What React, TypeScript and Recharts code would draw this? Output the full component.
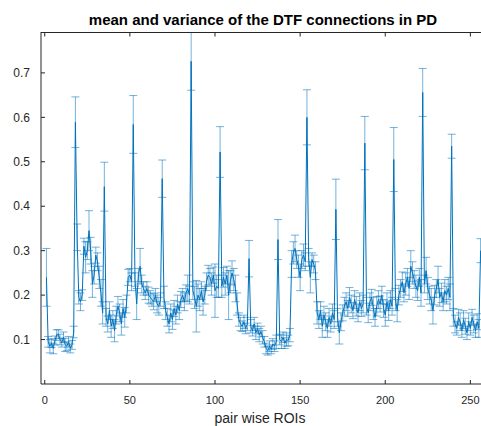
import React from 'react';
import { LineChart, Line, XAxis, YAxis, ErrorBar } from 'recharts';

// mean DTF value per connection (16x16 pairs flattened, one row per source)
const means = [
  0.240, 0.095, 0.085, 0.092, 0.080, 0.098, 0.110, 0.112, 0.100, 0.093, 0.105, 0.088, 0.085, 0.095, 0.080, 0.088,
  0.117, 0.589, 0.330, 0.195, 0.185, 0.200, 0.310, 0.285, 0.300, 0.345, 0.300, 0.225, 0.245, 0.290, 0.275, 0.240,
  0.205, 0.160, 0.444, 0.150, 0.135, 0.165, 0.130, 0.145, 0.120, 0.155, 0.175, 0.160, 0.135, 0.170, 0.150, 0.180,
  0.240, 0.245, 0.230, 0.584, 0.235, 0.180, 0.245, 0.265, 0.225, 0.215, 0.205, 0.215, 0.200, 0.195, 0.190, 0.185,
  0.200, 0.180, 0.175, 0.190, 0.462, 0.195, 0.165, 0.150, 0.135, 0.160, 0.145, 0.170, 0.155, 0.180, 0.165, 0.190,
  0.200, 0.185, 0.205, 0.215, 0.200, 0.726, 0.210, 0.195, 0.175, 0.200, 0.190, 0.210, 0.185, 0.200, 0.230, 0.245,
  0.240, 0.225, 0.245, 0.210, 0.220, 0.215, 0.522, 0.220, 0.240, 0.225, 0.245, 0.200, 0.230, 0.250, 0.235, 0.215,
  0.180, 0.145, 0.135, 0.130, 0.140, 0.125, 0.135, 0.282, 0.130, 0.120, 0.135, 0.115, 0.125, 0.110, 0.118, 0.105,
  0.095, 0.080, 0.075, 0.085, 0.078, 0.090, 0.085, 0.095, 0.325, 0.100, 0.095, 0.105, 0.092, 0.100, 0.098, 0.110,
  0.270, 0.295, 0.305, 0.280, 0.265, 0.240, 0.280, 0.290, 0.275, 0.600, 0.285, 0.240, 0.280, 0.270, 0.255, 0.160,
  0.145, 0.165, 0.130, 0.155, 0.140, 0.125, 0.150, 0.135, 0.160, 0.145, 0.393, 0.150, 0.115, 0.140, 0.160, 0.175,
  0.185, 0.170, 0.195, 0.180, 0.165, 0.190, 0.175, 0.160, 0.185, 0.170, 0.180, 0.542, 0.175, 0.160, 0.185, 0.195,
  0.170, 0.150, 0.175, 0.190, 0.180, 0.200, 0.170, 0.155, 0.185, 0.165, 0.190, 0.175, 0.505, 0.190, 0.165, 0.200,
  0.215, 0.230, 0.205, 0.225, 0.240, 0.215, 0.265, 0.250, 0.235, 0.220, 0.210, 0.240, 0.205, 0.656, 0.225, 0.255,
  0.215, 0.200, 0.190, 0.165, 0.200, 0.215, 0.235, 0.195, 0.205, 0.185, 0.210, 0.200, 0.215, 0.195, 0.535, 0.150,
  0.135, 0.125, 0.150, 0.140, 0.120, 0.145, 0.130, 0.115, 0.140, 0.125, 0.150, 0.135, 0.120, 0.140, 0.125, 0.300,
];

// half-length of each error bar
const errs = [
  0.065, 0.012, 0.015, 0.010, 0.012, 0.010, 0.012, 0.010, 0.012, 0.010, 0.012, 0.015, 0.010, 0.012, 0.010, 0.010,
  0.013, 0.057, 0.030, 0.015, 0.020, 0.012, 0.018, 0.035, 0.020, 0.045, 0.030, 0.030, 0.020, 0.018, 0.020, 0.025,
  0.030, 0.025, 0.055, 0.020, 0.018, 0.020, 0.025, 0.020, 0.025, 0.020, 0.022, 0.020, 0.025, 0.020, 0.022, 0.020,
  0.018, 0.015, 0.020, 0.065, 0.015, 0.035, 0.015, 0.040, 0.020, 0.015, 0.015, 0.015, 0.018, 0.015, 0.015, 0.018,
  0.015, 0.020, 0.020, 0.015, 0.042, 0.025, 0.020, 0.020, 0.020, 0.020, 0.022, 0.018, 0.020, 0.020, 0.020, 0.018,
  0.015, 0.020, 0.018, 0.030, 0.020, 0.065, 0.020, 0.025, 0.058, 0.025, 0.025, 0.020, 0.030, 0.020, 0.020, 0.022,
  0.020, 0.025, 0.018, 0.060, 0.025, 0.020, 0.057, 0.025, 0.022, 0.025, 0.020, 0.055, 0.025, 0.027, 0.025, 0.030,
  0.025, 0.015, 0.015, 0.012, 0.015, 0.012, 0.015, 0.041, 0.015, 0.012, 0.015, 0.015, 0.012, 0.015, 0.012, 0.015,
  0.012, 0.012, 0.010, 0.012, 0.010, 0.012, 0.012, 0.015, 0.045, 0.012, 0.015, 0.012, 0.012, 0.015, 0.012, 0.015,
  0.030, 0.025, 0.030, 0.020, 0.025, 0.030, 0.020, 0.025, 0.020, 0.062, 0.020, 0.035, 0.015, 0.020, 0.020, 0.025,
  0.020, 0.020, 0.025, 0.020, 0.020, 0.020, 0.020, 0.018, 0.020, 0.020, 0.068, 0.020, 0.025, 0.020, 0.018, 0.020,
  0.020, 0.018, 0.022, 0.020, 0.018, 0.020, 0.022, 0.020, 0.020, 0.018, 0.020, 0.060, 0.020, 0.022, 0.020, 0.018,
  0.025, 0.020, 0.022, 0.020, 0.018, 0.020, 0.020, 0.025, 0.020, 0.022, 0.020, 0.020, 0.072, 0.025, 0.025, 0.022,
  0.020, 0.022, 0.020, 0.025, 0.020, 0.025, 0.035, 0.025, 0.020, 0.025, 0.022, 0.020, 0.030, 0.054, 0.020, 0.030,
  0.025, 0.020, 0.025, 0.030, 0.022, 0.020, 0.030, 0.020, 0.022, 0.020, 0.025, 0.020, 0.025, 0.030, 0.027, 0.020,
  0.020, 0.015, 0.018, 0.020, 0.015, 0.020, 0.018, 0.015, 0.020, 0.015, 0.018, 0.020, 0.015, 0.018, 0.020, 0.027,
];

const xTicks = [0, 50, 100, 150, 200, 250];
const yTicks = [0.1, 0.2, 0.3, 0.4, 0.5, 0.6, 0.7];

const data = means.map((m, i) => ({ idx: i + 1, mean: m, err: errs[i] }));

const BLUE = '#0072BD';
const AXIS = '#262626';
const FONT = '"Liberation Sans", Arial, Helvetica, sans-serif';
const X_DOMAIN: [number, number] = [-2.2, 258];
const Y_TOP = 0.792;

// chart geometry (shared by the chart and the box-top overlay)
const CHART_W = 490;
const MARGIN = { top: 32, right: 6, bottom: 12, left: 0 };
const Y_AXIS_W = 41;
const PLOT_LEFT = MARGIN.left + Y_AXIS_W;
const PLOT_W = CHART_W - MARGIN.right - PLOT_LEFT;
const boxX = (t: number) => PLOT_LEFT + ((t - X_DOMAIN[0]) / (X_DOMAIN[1] - X_DOMAIN[0])) * PLOT_W;

export default function App() {
  const topY = MARGIN.top + 0.5;
  return (
    <div style={{ position: 'absolute', left: 0, top: 0, width: 481, height: 426, overflow: 'hidden', background: '#fff' }}>
      <LineChart
        width={CHART_W}
        height={426}
        data={data}
        margin={MARGIN}
        style={{ fontFamily: FONT }}
      >
        <XAxis
          dataKey="idx"
          type="number"
          domain={X_DOMAIN}
          ticks={xTicks}
          allowDataOverflow
          stroke={AXIS}
          height={30}
          tickSize={-4}
          tickMargin={16}
          tick={{ fill: AXIS, fontSize: 11 }}
        />
        <YAxis
          type="number"
          domain={[0, Y_TOP]}
          ticks={yTicks}
          allowDataOverflow
          width={Y_AXIS_W}
          stroke={AXIS}
          tickSize={-4}
          tickMargin={15}
          tick={{ fill: AXIS, fontSize: 12 }}
        />
        <Line
          dataKey="mean"
          type="linear"
          stroke={BLUE}
          strokeWidth={1}
          dot={false}
          isAnimationActive={false}
        >
          <ErrorBar dataKey="err" direction="y" width={4} stroke={BLUE} strokeWidth={1} strokeOpacity={0.55} isAnimationActive={false} />
        </Line>
      </LineChart>
      <svg width={481} height={426} style={{ position: 'absolute', left: 0, top: 0, pointerEvents: 'none' }}>
        {/* box top edge with inward ticks */}
        <line x1={PLOT_LEFT} x2={CHART_W} y1={topY} y2={topY} stroke={AXIS} strokeWidth={1} />
        {xTicks.map((t) => (
          <line key={t} x1={boxX(t)} x2={boxX(t)} y1={topY} y2={topY + 4} stroke={AXIS} strokeWidth={1} />
        ))}
        <text x={263} y={25} textAnchor="middle" fontFamily={FONT} fontWeight="bold" fontSize={15} fill="#000">
          mean and variance of the DTF connections in PD
        </text>
        <text x={260} y={423} textAnchor="middle" fontFamily={FONT} fontSize={14} fill={AXIS}>
          pair wise ROIs
        </text>
      </svg>
    </div>
  );
}
